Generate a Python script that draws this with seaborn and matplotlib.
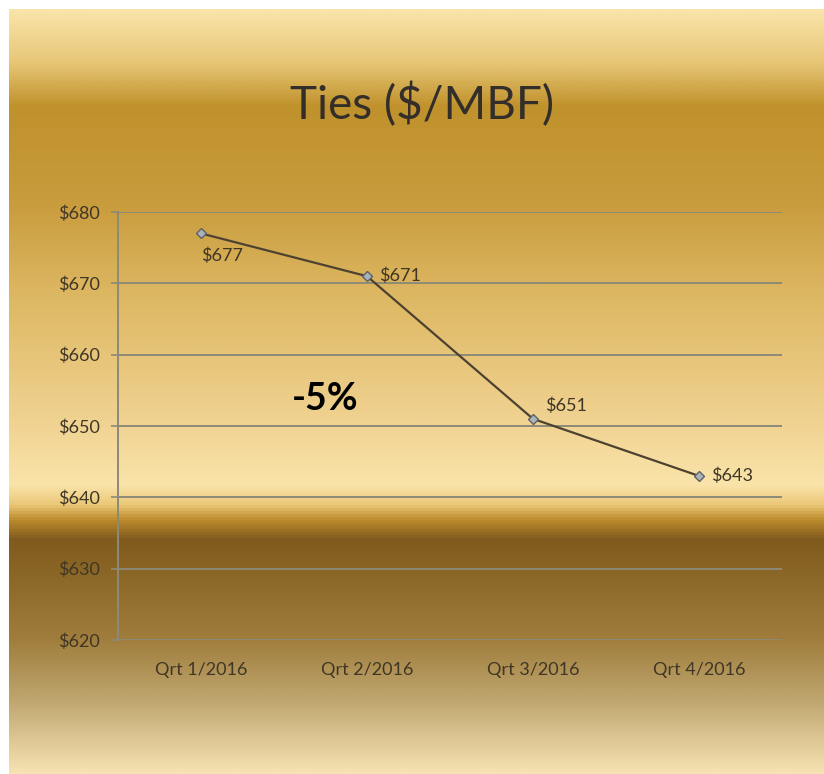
import numpy as np
import matplotlib
matplotlib.use("Agg")
import matplotlib.pyplot as plt
from matplotlib.colors import LinearSegmentedColormap
import seaborn as sns

# Quarterly tie prices ($ per thousand board feet)
quarters = ["Qrt 1/2016", "Qrt 2/2016", "Qrt 3/2016", "Qrt 4/2016"]
prices = [677, 671, 651, 643]
y_ticks = [620, 630, 640, 650, 660, 670, 680]
change_label = "-5%"

sns.set_theme(style="white")
plt.rcParams["font.family"] = ["Lato", "DejaVu Sans"]

W, H = 824, 774
fig = plt.figure(figsize=(W / 100, H / 100), dpi=100)
fig.patch.set_facecolor("white")

# Gold vertical gradient backdrop (positions measured from the top)
stops = [
    (9, (249, 228, 170)),
    (60, (232, 200, 120)),
    (105, (192, 146, 44)),
    (200, (200, 155, 60)),
    (300, (222, 185, 100)),
    (420, (240, 210, 145)),
    (485, (250, 228, 170)),
    (505, (235, 200, 120)),
    (520, (190, 140, 45)),
    (540, (128, 90, 30)),
    (580, (140, 105, 40)),
    (640, (160, 125, 60)),
    (700, (190, 165, 110)),
    (774, (246, 226, 178)),
]
y0, y1 = stops[0][0], stops[-1][0]
cmap = LinearSegmentedColormap.from_list(
    "gold",
    [((p - y0) / (y1 - y0), tuple(c / 255 for c in col)) for p, col in stops],
)
bg = fig.add_axes([9 / W, 0, 1 - 9 / W, 1 - 9 / H])
bg.imshow(np.linspace(0, 1, 512).reshape(-1, 1), aspect="auto", cmap=cmap,
          extent=[0, 1, 0, 1])
bg.set_axis_off()

# Plot area
left, right, top, bottom = 118, 782, 212, 640
ax = fig.add_axes([left / W, 1 - bottom / H, (right - left) / W, (bottom - top) / H])
ax.patch.set_alpha(0)

grid_color = (0.55, 0.54, 0.47)
text_color = (0.25, 0.21, 0.15)

sns.lineplot(x=quarters, y=prices, ax=ax, color=(0.30, 0.26, 0.19), lw=1.6,
             marker="D", markersize=5.5, markerfacecolor=(0.66, 0.70, 0.74),
             markeredgecolor=(0.38, 0.38, 0.38), markeredgewidth=1.0)

ax.set_ylim(620, 680)
ax.set_xlim(-0.5, 3.5)
ax.set_yticks(y_ticks)
ax.set_yticklabels([f"${v}" for v in y_ticks], color=text_color, fontsize=13)
ax.set_xticks(range(len(quarters)))
ax.set_xticklabels(quarters, color=text_color, fontsize=13)
ax.tick_params(axis="y", length=5, width=1.2, color=grid_color, pad=8, left=True)
ax.tick_params(axis="x", length=0, pad=16)

for v in y_ticks:
    ax.axhline(v, color=grid_color, lw=1.4, zorder=0)
for s in ["top", "right", "bottom"]:
    ax.spines[s].set_visible(False)
ax.spines["left"].set_color(grid_color)
ax.spines["left"].set_linewidth(1.4)
ax.set_xlabel("")
ax.set_ylabel("")

# Value labels
offsets = [(0, -14, "left", "top"), (12, 0, "left", "center"),
           (12, 5, "left", "bottom"), (12, 0, "left", "center")]
for i, (q, p) in enumerate(zip(quarters, prices)):
    dx, dy, ha, va = offsets[i]
    ax.annotate(f"${p}", (i, p), xytext=(dx, dy), textcoords="offset pixels",
                ha=ha, va=va, fontsize=13, color=text_color)

ax.text(0.75, 653.8, change_label, ha="center", va="center", fontsize=27,
        fontweight="bold", color="black")

fig.text(422 / W, 1 - 105 / H, "Ties ($/MBF)", ha="center", va="center",
         fontsize=33, color=(0.2, 0.18, 0.16))

fig.savefig("out.png", dpi=100, facecolor=fig.get_facecolor())
